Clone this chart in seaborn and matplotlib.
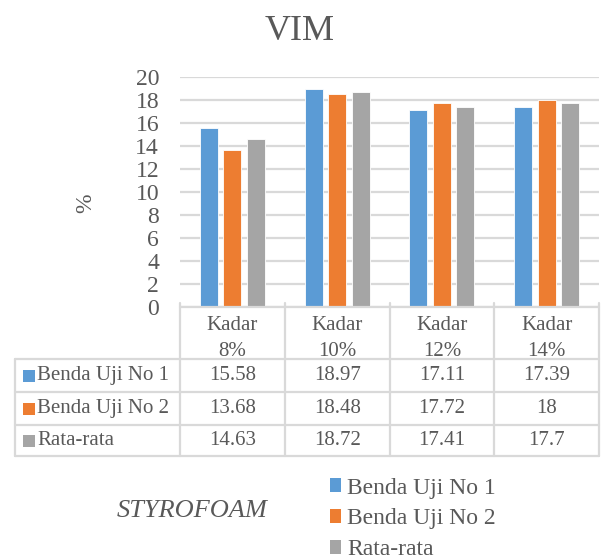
import matplotlib
matplotlib.use("Agg")
import matplotlib.pyplot as plt
from matplotlib.lines import Line2D
from matplotlib.patches import Patch, Rectangle
from matplotlib.font_manager import FontProperties
import seaborn as sns
import pandas as pd

# ---- data ----
categories = ["Kadar\n8%", "Kadar\n10%", "Kadar\n12%", "Kadar\n14%"]
series_names = ["Benda Uji No 1", "Benda Uji No 2", "Rata-rata"]
benda_uji_1 = [15.58, 18.97, 17.11, 17.39]
benda_uji_2 = [13.68, 18.48, 17.72, 18]
rata_rata = [14.63, 18.72, 17.41, 17.7]
y_ticks = [0, 2, 4, 6, 8, 10, 12, 14, 16, 18, 20]

colors = ["#5B9BD5", "#ED7D31", "#A5A5A5"]
text_color = "#595959"
grid_color = "#D9D9D9"

series_values = [benda_uji_1, benda_uji_2, rata_rata]
rows = []
for name, vals in zip(series_names, series_values):
    for cat, v in zip(categories, vals):
        rows.append({"kategori": cat, "seri": name, "nilai": v})
df = pd.DataFrame(rows)

sns.set_theme(style="white")
serif = ["Liberation Serif", "DejaVu Serif"]
plt.rcParams["font.family"] = serif
plt.rcParams["text.color"] = text_color

W, H = 601, 559
fig = plt.figure(figsize=(W / 100, H / 100), dpi=100)
fig.patch.set_facecolor("white")


def fx(px):
    return px / W


def fy(py):
    return 1 - py / H


# plot area (pixel layout)
left, right, top, bottom = 180, 599, 77, 307
ax = fig.add_axes([fx(left), fy(bottom), (right - left) / W, (bottom - top) / H])

sns.barplot(data=df, x="kategori", y="nilai", hue="seri", order=categories,
            hue_order=series_names, palette=colors, width=0.673, gap=0.234,
            saturation=1, edgecolor="white", linewidth=0.6, legend=False, ax=ax)

ax.set_xlim(-0.5, len(categories) - 0.5)
ax.set_ylim(0, 20)
ax.set_yticks(y_ticks)
ax.set_yticklabels([str(t) for t in y_ticks], fontsize=17, color=text_color)
ax.tick_params(axis="y", length=0, pad=15)
ax.set_xticks([])
ax.set_xlabel("")
ax.set_ylabel("")
for s in ax.spines.values():
    s.set_visible(False)
ax.yaxis.grid(True, color=grid_color, linewidth=1.6)
ax.set_axisbelow(True)

# title and axis label
fig.text(fx(300), fy(32), "VIM", fontsize=26, ha="center", va="center", color=text_color)
fig.text(fx(86), fy(203), "%", fontsize=17, ha="center", va="center",
         rotation=90, color=text_color)

# ---- data table under the plot ----
table_left = 15
row_edges = [307, 359, 392, 425, 456]
col_edges = [left + i * (right - left) / len(categories) for i in range(len(categories) + 1)]
lw = 1.6


def hline(x0, x1, y):
    fig.add_artist(Line2D([fx(x0), fx(x1)], [fy(y), fy(y)], color=grid_color, lw=lw))


def vline(x, y0, y1):
    fig.add_artist(Line2D([fx(x), fx(x)], [fy(y0), fy(y1)], color=grid_color, lw=lw))


hline(left, right, row_edges[0])
for y in row_edges[1:]:
    hline(table_left, right, y)
for x in col_edges:
    vline(x, row_edges[0] - 4, row_edges[-1])
vline(table_left, row_edges[1], row_edges[-1])

# header cells
for i, cat in enumerate(categories):
    cx = (col_edges[i] + col_edges[i + 1]) / 2
    cy = (row_edges[0] + row_edges[1]) / 2 + 5
    fig.text(fx(cx), fy(cy), cat, fontsize=15, ha="center", va="center",
             linespacing=1.5, color=text_color)

# series rows
for r, (name, vals, col) in enumerate(zip(series_names, series_values, colors)):
    cy = (row_edges[r + 1] + row_edges[r + 2]) / 2
    fig.add_artist(Rectangle((fx(23), fy(cy + 6)), 11.5 / W, 11.5 / H,
                             facecolor=col, edgecolor="none"))
    fig.text(fx(37), fy(cy), name, fontsize=15, ha="left", va="center", color=text_color)
    for i, v in enumerate(vals):
        cx = (col_edges[i] + col_edges[i + 1]) / 2
        fig.text(fx(cx), fy(cy), f"{v:g}", fontsize=15, ha="center", va="center",
                 color=text_color)

# ---- bottom legend ----
fig.text(fx(192), fy(511), "STYROFOAM", fontsize=19, style="italic",
         ha="center", va="center", color=text_color)
handles = [Patch(facecolor=c, edgecolor="none") for c in colors]
fig.legend(handles, series_names, loc="upper left",
           bbox_to_anchor=(fx(313), fy(461)), frameon=False,
           prop=FontProperties(family=serif, size=17),
           handlelength=0.5, handleheight=0.5, handletextpad=0.25,
           labelspacing=0.42, labelcolor=text_color, borderpad=0.2)

fig.savefig("out.png", dpi=100, facecolor="white")
